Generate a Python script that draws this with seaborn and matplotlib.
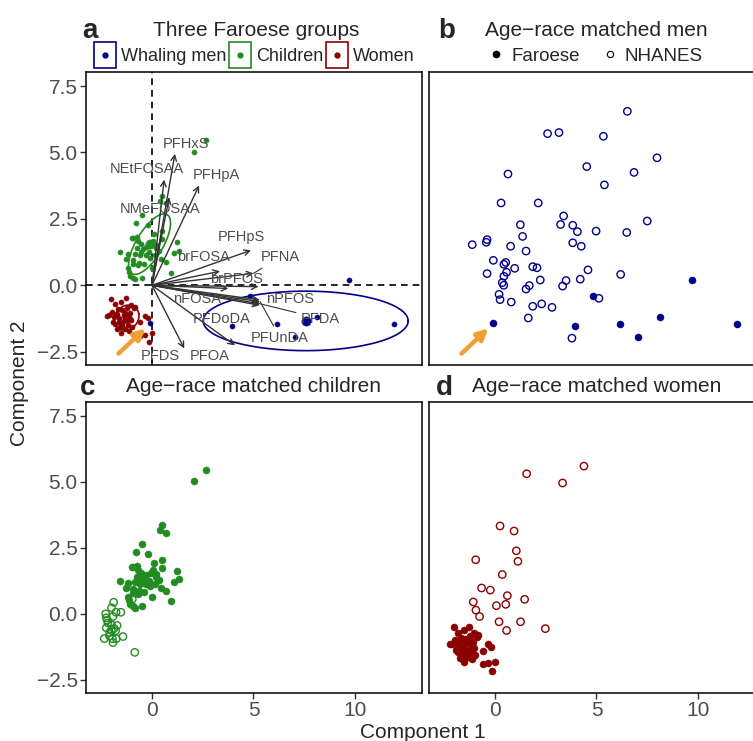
import matplotlib
matplotlib.use("Agg")
import matplotlib.pyplot as plt
import pandas as pd
import seaborn as sns
from matplotlib.lines import Line2D
from matplotlib.patches import Rectangle
from matplotlib.legend_handler import HandlerBase
import numpy as np

# ---- values ----
groups = ["Whaling men", "Children", "Women"]
group_colors = ["#00008B", "#228B22", "#8B0000"]

# Faroese whaling men (filled) and matched NHANES men (open)
men_x = [-0.10, 3.92, 4.82, 6.14, 7.02, 8.12, 9.70, 11.90]
men_y = [-1.43, -1.53, -0.40, -1.46, -1.93, -1.18, 0.20, -1.46]
nh_men_x = [6.52, 2.59, 3.15, 5.34, 7.98, 4.52, 6.85, 0.64, 5.39, 0.30, 2.13, 3.38,
            1.25, 3.23, 3.83, 7.50, 4.06, 4.98, 6.49, 1.36, -1.12, -0.39, -0.43, 0.77,
            3.83, 4.25, 1.53, -0.08, 0.53, 0.44, 0.97, 1.86, 2.07, -0.39, 0.57, 0.44,
            4.58, 6.19, 0.36, 0.43, 2.23, 3.50, 3.33, 4.20, 1.69, 1.53, 0.20, 0.25,
            0.80, 5.12, 1.86, 2.30, 2.81, 1.64, 3.79]
nh_men_y = [6.55, 5.71, 5.75, 5.61, 4.80, 4.47, 4.25, 4.19, 3.78, 3.10, 3.10, 2.61,
            2.28, 2.29, 2.26, 2.42, 2.02, 2.04, 1.99, 1.84, 1.53, 1.72, 1.62, 1.47,
            1.60, 1.47, 1.29, 0.94, 0.86, 0.79, 0.64, 0.70, 0.66, 0.44, 0.49, 0.34,
            0.58, 0.41, 0.10, 0.00, 0.20, 0.18, -0.03, 0.23, -0.01, -0.14, -0.34, -0.54,
            -0.63, -0.49, -0.79, -0.70, -0.83, -1.23, -1.99]

# Faroese children (filled) and matched NHANES children (open)
kid_x = [2.64, 2.07, 0.48, 0.38, 0.67, -0.48, -0.80, -0.18, 0.10, 0.51, -0.97, -0.74,
         0.51, 1.23, 1.33, 1.07, -0.67, -0.56, -0.28, -0.03, 0.18, 0.05, 0.34, -0.74,
         -0.44, -1.56, -1.17, -0.85, -0.57, -0.16, 0.13, -0.08, -1.26, -0.94, -0.71, -0.41,
         0.43, 0.67, 0.02, 0.95, -1.17, -1.13, -1.07, -0.94, -0.49, -0.85, -0.64, -0.94,
         -0.53, -0.28, 0.21, -0.94]
kid_y = [5.46, 5.03, 3.35, 3.19, 3.08, 2.63, 2.33, 2.26, 1.94, 2.04, 1.78, 1.81,
         1.74, 1.63, 1.31, 1.20, 1.66, 1.54, 1.46, 1.56, 1.50, 1.66, 1.29, 1.41,
         1.35, 1.24, 1.16, 1.19, 1.13, 1.24, 1.14, 1.04, 0.99, 0.94, 0.76, 0.81,
         0.99, 0.88, 0.65, 0.48, 0.64, 0.51, 0.36, 0.29, 0.28, 0.23, 0.85, 1.79,
         1.26, 1.14, 1.39, 0.79]
nh_kid_x = [-1.89, -1.99, -2.28, -2.20, -1.77, -1.53, -1.92, -2.00, -2.25, -1.87, -2.09, -1.79,
            -2.35, -1.95, -1.76, -1.43, -1.92, -2.09, -2.17, -1.72, -0.85, -0.97, -0.11, -2.25,
            -2.00]
nh_kid_y = [0.44, 0.23, 0.00, -0.24, 0.06, 0.06, -0.10, -0.41, -0.53, -0.56, -0.71, -0.64,
            -0.94, -0.94, -0.94, -0.86, -1.09, -0.84, -0.34, -0.44, -1.46, 0.56, 1.10, -0.15,
            -0.63]

# Faroese women (filled) and matched NHANES women (open)
wom_x = [-2.00, -1.81, -1.51, -1.28, -1.02, -0.82, -2.23, -1.97, -1.72, -1.48, -1.31, -1.15,
         -1.02, -1.64, -1.40, -1.81, -1.56, -1.31, -1.51, -1.72, -1.15, -0.57, -0.36, -0.20,
         -0.57, -0.33, 0.00, -0.16, -1.89, -2.10, -1.23, -0.90, -1.40, -1.61, -1.18, -1.94,
         -0.99, -1.67, -1.10, -1.48]
wom_y = [-0.51, -0.71, -0.61, -0.49, -0.74, -0.81, -1.14, -0.99, -1.09, -0.94, -1.03, -1.21,
         -1.31, -1.24, -1.36, -1.44, -1.56, -1.65, -1.81, -1.66, -1.71, -1.40, -1.15, -1.24,
         -1.90, -1.86, -1.81, -2.15, -1.19, -1.13, -0.84, -0.86, -1.11, -1.38, -1.50, -1.38,
         -1.56, -0.90, -1.06, -1.50]
nh_wom_x = [4.38, 1.56, 3.33, 0.25, 0.94, 1.05, 1.13, -0.95, 0.36, -0.66, -0.23, 0.61,
            1.46, -1.07, 0.07, 0.53, -0.94, -0.76, 0.20, 1.26, 0.57, 2.48]
nh_wom_y = [5.60, 5.31, 4.96, 3.33, 3.14, 2.39, 1.99, 2.05, 1.49, 0.98, 0.90, 0.69,
            0.55, 0.45, 0.31, 0.36, 0.14, -0.10, -0.30, -0.30, -0.63, -0.56]

# group centroids and ellipses (centre + two conjugate semi-axes) in panel a
cent_x = [7.57, -0.12, -1.25]
cent_y = [-1.34, 1.55, -1.22]
ell_ax = [5.05, 0.87, 0.60]
ell_ay = [0.00, 1.11, 0.15]
ell_bx = [0.00, 0.56, -0.10]
ell_by = [1.12, -0.26, 0.45]

# PCA loadings (arrow tips) and their label positions
load_names = ["PFHxS", "NEtFOSAA", "PFHpA", "NMeFOSAA", "PFHpS", "brFOSA", "PFNA", "brPFOS",
              "nFOSA", "nPFOS", "PFDA", "PFDoDA", "PFUnDA", "PFDS", "PFOA"]
load_x = [1.13, 0.60, 2.32, 0.85, 4.88, 3.35, 5.00, 5.25, 3.76, 5.30, 5.35, 5.30, 5.33, 1.59, 4.09]
load_y = [4.95, 3.98, 3.76, 3.32, 1.32, 0.53, 0.45, -0.05, -0.12, -0.55, -0.70, -0.75, -0.62, -2.38, -2.26]
lab_x = [1.66, -0.26, 3.19, 0.39, 4.42, 2.53, 6.31, 4.17, 2.20, 6.80, 8.28, 3.43, 6.31, 0.39, 2.86]
lab_y = [5.33, 4.36, 4.14, 2.88, 1.82, 1.06, 1.06, 0.25, -0.50, -0.50, -1.25, -1.25, -1.97, -2.67, -2.67]
seg_names = ["PFNA", "PFDA", "PFUnDA"]

# orange pointer to the highlighted whaling man (tail, head)
pointer_x = [-1.65, -0.33]
pointer_y = [-2.57, -1.62]

xlim = (-3.25, 13.3)
ylim = (-3.0, 8.03)
orange = "#F0A030"

sns.set_style("white")
plt.rcParams["font.family"] = ["Liberation Sans", "DejaVu Sans"]
plt.rcParams["axes.unicode_minus"] = True

fig = plt.figure(figsize=(7.53, 7.41), dpi=100)
W, H = 753, 741


def px_axes(left, top, right, bottom):
    return fig.add_axes([left / W, 1 - bottom / H, (right - left) / W, (bottom - top) / H])


ax_a = px_axes(86, 72, 422, 365)
ax_b = px_axes(429, 72, 765, 365)
ax_c = px_axes(86, 402, 422, 693)
ax_d = px_axes(429, 402, 765, 693)

for ax in [ax_a, ax_b, ax_c, ax_d]:
    ax.set_xlim(*xlim)
    ax.set_ylim(*ylim)
    ax.set_xticks([0, 5, 10])
    ax.set_yticks([-2.5, 0, 2.5, 5, 7.5])
    ax.set_yticklabels(["\u22122.5", "0.0", "2.5", "5.0", "7.5"])
    ax.tick_params(labelsize=15, labelcolor="#4D4D4D", color="#333333", length=4, width=1,
                   direction="out", pad=2)
    for sp in ax.spines.values():
        sp.set_color("black")
        sp.set_linewidth(1.1)

for ax in [ax_a, ax_b]:
    ax.tick_params(axis="x", bottom=False, labelbottom=False)
for ax in [ax_b, ax_d]:
    ax.tick_params(axis="y", left=False, labelleft=False)
for ax in [ax_a, ax_c]:
    ax.tick_params(axis="y", left=True)
for ax in [ax_c, ax_d]:
    ax.tick_params(axis="x", bottom=True)


def dots(ax, xs, ys, color, s, hollow=False, z=3):
    df = pd.DataFrame({"x": xs, "y": ys})
    if hollow:
        sns.scatterplot(data=df, x="x", y="y", ax=ax, s=s, marker="o", facecolors="none",
                        edgecolor=color, linewidth=1.0, legend=False, zorder=z)
    else:
        sns.scatterplot(data=df, x="x", y="y", ax=ax, s=s, color=color, edgecolor=color,
                        linewidth=0.3, legend=False, zorder=z)
    ax.set_xlabel("")
    ax.set_ylabel("")


# ---- panel a ----
ax_a.axhline(0, color="black", lw=1.2, ls=(0, (4, 3)), zorder=1)
ax_a.axvline(0, color="black", lw=1.2, ls=(0, (4, 3)), zorder=1)
group_xy = [(men_x, men_y), (kid_x, kid_y), (wom_x, wom_y)]
t = np.linspace(0, 2 * np.pi, 200)
for i, (gx, gy) in enumerate(group_xy):
    dots(ax_a, gx, gy, group_colors[i], 14)
    dots(ax_a, [cent_x[i]], [cent_y[i]], group_colors[i], 45)
    ex = cent_x[i] + ell_ax[i] * np.cos(t) + ell_bx[i] * np.sin(t)
    ey = cent_y[i] + ell_ay[i] * np.cos(t) + ell_by[i] * np.sin(t)
    ax_a.plot(ex, ey, color=group_colors[i], lw=1.2, zorder=2)

for name, lx, ly, tx, ty in zip(load_names, load_x, load_y, lab_x, lab_y):
    ax_a.annotate("", xy=(lx, ly), xytext=(0, 0),
                  arrowprops=dict(arrowstyle="->", color="#333333", lw=1.0,
                                  shrinkA=0, shrinkB=0, mutation_scale=10), zorder=4)
    if name in seg_names:
        ax_a.annotate(name, xy=(lx, ly), xytext=(tx, ty), ha="center", va="center",
                      fontsize=10.5, color="#4D4D4D", zorder=5,
                      arrowprops=dict(arrowstyle="-", color="#333333", lw=0.8,
                                      shrinkA=1, shrinkB=0))
    else:
        ax_a.text(tx, ty, name, ha="center", va="center", fontsize=10.5,
                  color="#4D4D4D", zorder=5)

for ax in [ax_a, ax_b]:
    ax.annotate("", xy=(pointer_x[1], pointer_y[1]), xytext=(pointer_x[0], pointer_y[0]),
                arrowprops=dict(arrowstyle="-|>", color=orange, lw=3.2,
                                mutation_scale=16, shrinkA=0, shrinkB=0), zorder=6)

# ---- panels b, c, d ----
dots(ax_b, nh_men_x, nh_men_y, group_colors[0], 28, hollow=True)
dots(ax_b, men_x, men_y, group_colors[0], 26)
dots(ax_c, nh_kid_x, nh_kid_y, group_colors[1], 28, hollow=True)
dots(ax_c, kid_x, kid_y, group_colors[1], 26)
dots(ax_d, nh_wom_x, nh_wom_y, group_colors[2], 28, hollow=True)
dots(ax_d, wom_x, wom_y, group_colors[2], 26)


# ---- legends ----
class BoxDot(HandlerBase):
    def create_artists(self, legend, orig_handle, xdescent, ydescent, width, height,
                       fontsize, trans):
        c = orig_handle.get_color()
        rect = Rectangle((-xdescent, -ydescent - 0.35 * height), width, height * 1.7,
                         fill=False, edgecolor=c, lw=1.2, transform=trans)
        dot = Line2D([width / 2 - xdescent], [height / 2 - ydescent], marker="o",
                     markersize=3.5, color=c, linestyle="", transform=trans)
        return [rect, dot]


h_a = [Line2D([], [], color=c) for c in group_colors]
ax_a.legend(h_a, groups, handler_map={Line2D: BoxDot()}, ncol=3, frameon=False,
            loc="lower center", bbox_to_anchor=(0.5, 1.005), fontsize=13,
            handlelength=1.25, handleheight=0.9, handletextpad=0.25, columnspacing=0.15,
            borderaxespad=0.1, borderpad=0.2)

h_b = [Line2D([], [], marker="o", linestyle="", color="black", markersize=4.5),
       Line2D([], [], marker="o", linestyle="", color="black", markerfacecolor="none",
              markersize=4.5, markeredgewidth=0.8)]
ax_b.legend(h_b, ["Faroese", "NHANES"], ncol=2, frameon=False, loc="lower center",
            bbox_to_anchor=((595 - 429) / 336, 1.005), fontsize=13.5, handlelength=1.0,
            handletextpad=0.3, columnspacing=1.1, borderaxespad=0.1, borderpad=0.2)

# ---- titles, panel letters, axis labels ----
letters = ["a", "b", "c", "d"]
titles = ["Three Faroese groups", "Age\u2212race matched men",
          "Age\u2212race matched children", "Age\u2212race matched women"]
letter_pos = [(82, 31), (438, 31), (80, 388), (436, 388)]
title_pos = [(256, 30), (596, 30), (254, 386), (597, 386)]
for ltr, ttl, (lx, ly), (tx, ty) in zip(letters, titles, letter_pos, title_pos):
    fig.text(lx / W, 1 - ly / H, ltr, fontsize=20, fontweight="bold", va="center", ha="left")
    fig.text(tx / W, 1 - ty / H, ttl, fontsize=15, va="center", ha="center")

fig.text(423 / W, 1 - 732 / H, "Component 1", fontsize=15, ha="center", va="center")
fig.text(20 / W, 1 - 383 / H, "Component 2", fontsize=15, ha="center", va="center",
         rotation=90)

fig.savefig("out.png", dpi=100)
